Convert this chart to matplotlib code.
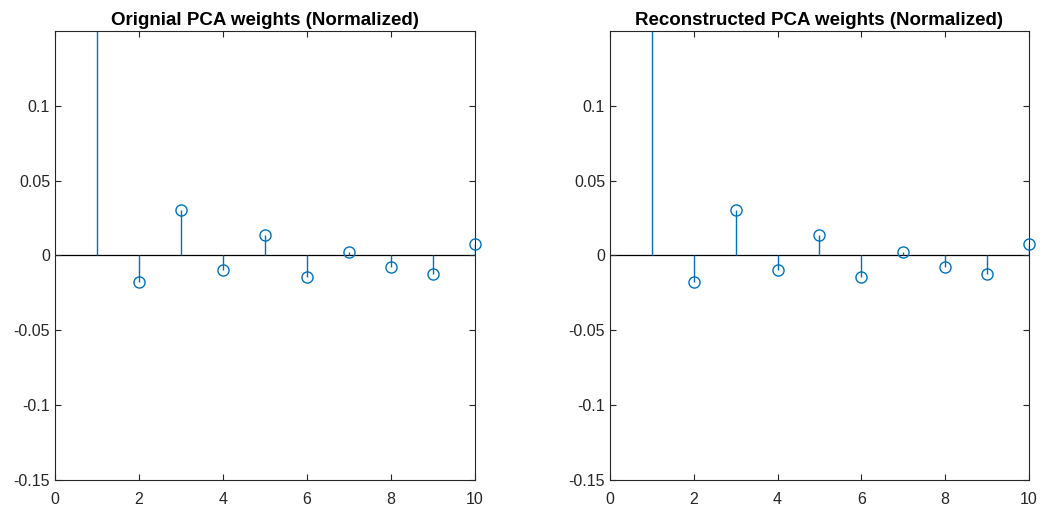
import matplotlib.pyplot as plt
import numpy as np

plt.rcParams['font.family'] = ['Liberation Sans', 'DejaVu Sans']

# PCA weights (normalized), first component goes off the top of the axes
idx = np.arange(1, 11)
w_orig = np.array([0.98, -0.0175, 0.0302, -0.0097, 0.0137, -0.0144, 0.0021, -0.0079, -0.0126, 0.0079])
w_recon = np.array([0.98, -0.0175, 0.0302, -0.0097, 0.0137, -0.0144, 0.0021, -0.0079, -0.0126, 0.0079])
titles = ['Orignial PCA weights (Normalized)', 'Reconstructed PCA weights (Normalized)']

yticks = [-0.15, -0.1, -0.05, 0, 0.05, 0.1]
ytick_labels = ['-0.15', '-0.1', '-0.05', '0', '0.05', '0.1']
xticks = [0, 2, 4, 6, 8, 10]

blue = '#0072BD'
frame = '#262626'

fig = plt.figure(figsize=(10.45, 5.12), dpi=100)
positions = [[0.0526, 0.0625, 0.4019, 0.877], [0.5837, 0.0625, 0.4010, 0.877]]

for pos, w, title in zip(positions, [w_orig, w_recon], titles):
    ax = fig.add_axes(pos)
    ax.set_xlim(0, 10)
    ax.set_ylim(-0.15, 0.15)
    ax.axhline(0, color='black', lw=0.9, zorder=1)
    ax.vlines(idx, 0, w, color=blue, lw=1.0, zorder=2)
    vis = np.abs(w) <= 0.15
    ax.plot(idx[vis], w[vis], 'o', mfc='none', mec=blue, ms=8, mew=1.0,
            clip_on=False, zorder=3)
    ax.set_xticks(xticks)
    ax.set_yticks(yticks)
    ax.set_yticklabels(ytick_labels)
    ax.tick_params(direction='in', top=True, right=True, length=4,
                   labelsize=11.5, color=frame, labelcolor=frame, width=0.8)
    ax.tick_params(axis='x', pad=9)
    for s in ax.spines.values():
        s.set_color(frame)
        s.set_linewidth(0.8)
    ax.set_title(title, fontsize=13.5, fontweight='bold', pad=4)

fig.savefig('out.png', dpi=100)
